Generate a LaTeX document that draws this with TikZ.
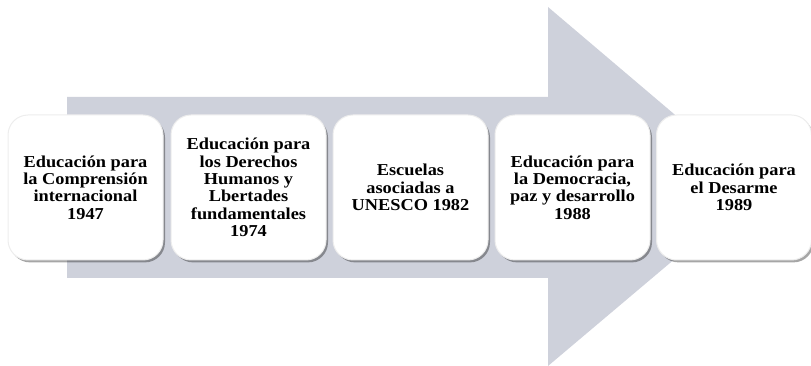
\documentclass[tikz,border=0pt]{standalone}
\usepackage{fontspec}
\setmainfont{Liberation Serif}[FakeStretch=1.1]
\usetikzlibrary{shadows}
\definecolor{arrowgray}{RGB}{206,209,219}

\tikzset{every picture/.style={line width=0.75pt}}
\tikzset{stagebox/.style={draw=black!7, fill=white, rounded corners=15pt,
    minimum width=116.25pt, minimum height=108.75pt, inner sep=0.75pt,
    align=center, font=\bfseries\fontsize{12.5}{13}\selectfont,
    drop shadow={shadow xshift=1.5pt, shadow yshift=-1.8pt, fill=black, opacity=0.35}}}

\begin{document}
\begin{tikzpicture}[x=0.75pt,y=0.75pt,yscale=-1,xscale=1]
	\useasboundingbox (0,0) rectangle (811,366);
	
	%Shape: Right Arrow [id:big arrow] 
	\fill [arrowgray] (67,97) -- (548,97) -- (548,7) -- (760,187) -- (548,366) -- (548,278) -- (67,278) -- cycle ;
	
	% Text Node
	\node [stagebox] (comprension) at (85.5,187.5) {Educación para\\la Comprensión\\internacional\\1947};
	% Text Node
	\node [stagebox] (derechos) at (248.5,187.5) {Educación para\\los Derechos\\Humanos y\\Lbertades\\fundamentales\\1974};
	% Text Node
	\node [stagebox] (escuelas) at (410.5,187.5) {Escuelas\\asociadas a\\UNESCO 1982};
	% Text Node
	\node [stagebox] (democracia) at (572.5,187.5) {Educación para\\la Democracia,\\paz y desarrollo\\1988};
	% Text Node
	\node [stagebox] (desarme) at (734,187.5) {Educación para\\el Desarme\\1989};
	
\end{tikzpicture}
\end{document}
